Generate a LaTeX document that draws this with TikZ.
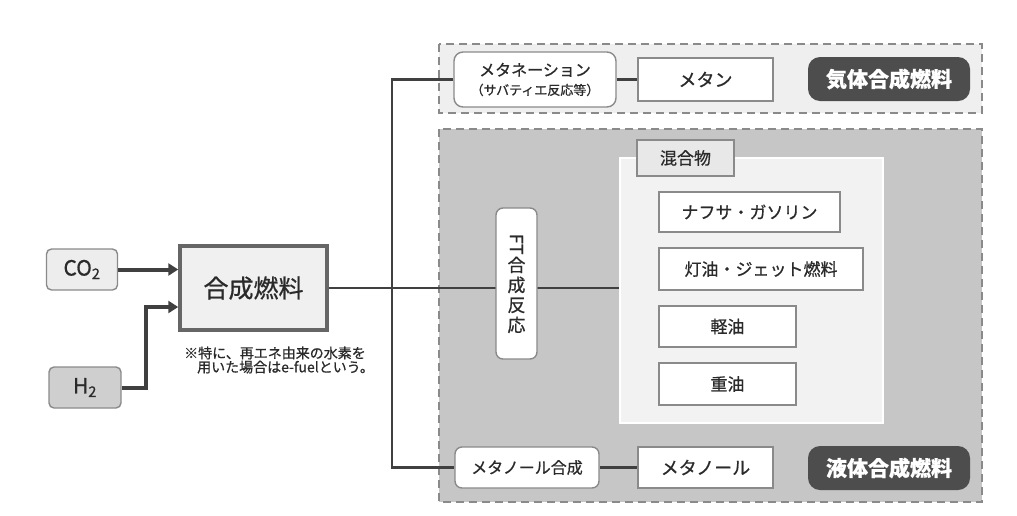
\documentclass[tikz,border=0pt]{standalone}
\usepackage{fontspec}
\setmainfont{Noto Sans CJK JP}[FakeBold=0.7]
\usetikzlibrary{arrows.meta}
\pgfdeclarelayer{back}
\pgfdeclarelayer{bg}
\pgfsetlayers{back,bg,main}
\definecolor{lineC}{HTML}{404040}
\definecolor{boxB}{HTML}{8A8A8A}
\definecolor{darkP}{HTML}{4D4D4D}
\definecolor{liqF}{HTML}{C6C6C6}
\definecolor{gasF}{HTML}{EFEFEF}
\definecolor{mixF}{HTML}{F2F2F2}
\definecolor{txtC}{HTML}{2A2A2A}
\tikzset{
  fs/.style={font=\fontsize{#1}{#1}\selectfont},
  wbox/.style={draw=boxB, fill=white, line width=1.4pt, inner sep=0pt, align=center, text=txtC},
  rbox/.style={wbox, rounded corners=7pt},
  pill/.style={fill=darkP, text=white, rounded corners=12pt, inner sep=0pt, font=\fontsize{21}{21}\selectfont\bfseries},
  conn/.style={draw=lineC, line width=2.8pt},
  arr/.style={draw=lineC, line width=4pt, -{Triangle[length=10pt,width=12pt]}},
  region/.style={draw=boxB, line width=1.5pt, dash pattern=on 8pt off 5pt},
}
\begin{document}
\begin{tikzpicture}[x=1pt,y=-1pt]
\useasboundingbox (0,0) rectangle (1017,515);
% regions
\begin{pgfonlayer}{back}
\draw[region, fill=gasF] (439,44) rectangle (982,113);
\draw[region, fill=liqF] (439,129) rectangle (982,502);
\end{pgfonlayer}
% left
\node[draw=boxB, fill=gray!14, rounded corners=5pt, line width=1.4pt, minimum width=71pt, minimum height=41pt, inner sep=0pt, fs=21, text=txtC] (co2) at (82,269.5) {CO\textsubscript{2}};
\node[draw=boxB, fill=gray!38, rounded corners=5pt, line width=1.4pt, minimum width=72pt, minimum height=41pt, inner sep=0pt, fs=21, text=txtC] (h2) at (85,387.5) {H\textsubscript{2}};
\node[draw=gray!80!black, fill=gray!12, line width=3.5pt, minimum width=147pt, minimum height=84pt, inner sep=0pt, fs=25, text=txtC] (syn) at (253.5,288) {合成燃料};
\node[anchor=west, align=left, inner sep=0pt, fs=14, text=txtC] (note) at (184,360) {※特に、再エネ由来の水素を\\\hspace{13pt}用いた場合はe-fuelという。};
% upper
\node[rbox, minimum width=162pt, minimum height=55pt, rounded corners=9pt, fs=16] (meth) at (535,79.5) {メタネーション\\[3pt]{\fontsize{13}{15}\selectfont （サバティエ反応等）}};
\node[wbox, minimum width=135pt, minimum height=43pt, fs=18] (methane) at (705.5,79.5) {メタン};
\node[pill, minimum width=162pt, minimum height=44pt] (gasfuel) at (889,79) {気体合成燃料};
% mixture
\node[fill=mixF, draw=white, line width=2.5pt, minimum width=263pt, minimum height=265pt, inner sep=0pt] (mix) at (751.5,290.5) {};
\node[draw=boxB, fill=gray!18, line width=1.4pt, minimum width=97pt, minimum height=36pt, inner sep=0pt, fs=17, text=txtC] (tab) at (685.5,158) {混合物};
\node[wbox, minimum width=181pt, minimum height=40pt, fs=17] (naph) at (749.5,212) {ナフサ・ガソリン};
\node[wbox, minimum width=204pt, minimum height=42pt, fs=17] (kero) at (761,269) {灯油・ジェット燃料};
\node[wbox, minimum width=137pt, minimum height=41pt, fs=17] (light) at (727.5,326.5) {軽油};
\node[wbox, minimum width=137pt, minimum height=42pt, fs=17] (heavy) at (727.5,384) {重油};
\node[rbox, minimum width=41pt, minimum height=151pt, fs=18, align=center] (ft) at (516.5,283.5) {\rotatebox{-90}{FT}\\[1pt]合\\[2pt]成\\[2pt]反\\[2pt]応};
% lower
\node[rbox, minimum width=144pt, minimum height=41pt, fs=16] (mesyn) at (527,467.5) {メタノール合成};
\node[wbox, minimum width=135pt, minimum height=41pt, fs=18] (methanol) at (705.5,467.5) {メタノール};
\node[pill, minimum width=162pt, minimum height=44pt] (liqfuel) at (889,468) {液体合成燃料};
% connectors
\coordinate (hb) at (146,307);
\coordinate (bus) at (392,288);
\draw[arr] (co2.east) -- (co2.east -| syn.west);
\draw[arr] (h2.east) -| (hb) -- (hb -| syn.west);
\begin{pgfonlayer}{bg}
\draw[conn] (syn.east) -- (syn.east -| mix.west);
\end{pgfonlayer}
\draw[conn, line join=miter] (meth.west) -| (bus) |- (mesyn.west);
\draw[conn] (meth.east) -- (methane.west);
\draw[conn] (mesyn.east) -- (methanol.west);
\end{tikzpicture}
\end{document}
